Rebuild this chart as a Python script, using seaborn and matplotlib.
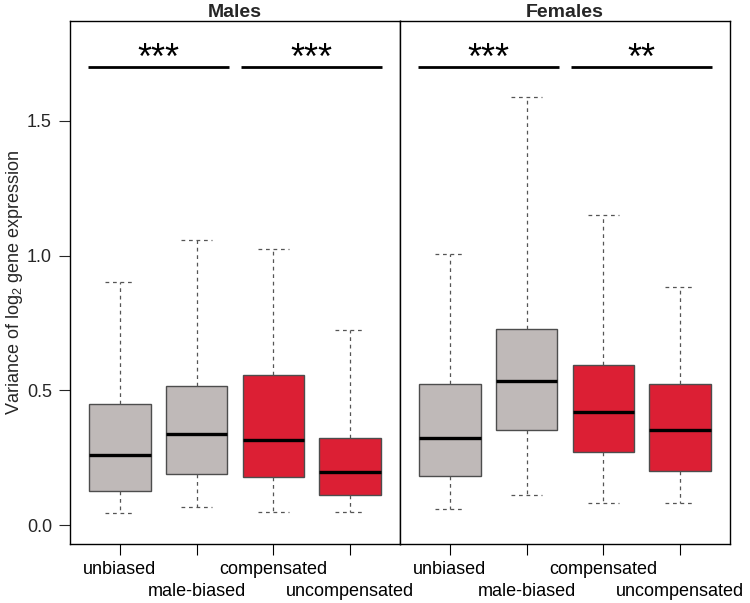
import numpy as np
import pandas as pd
import matplotlib
matplotlib.use('Agg')
import matplotlib.pyplot as plt
import seaborn as sns

categories = ['unbiased', 'male-biased', 'compensated', 'uncompensated']
box_colors = ['#BFB9B8', '#BFB9B8', '#DC1F34', '#DC1F34']

# five-number summaries (low whisker, Q1, median, Q3, high whisker)
males_low = [0.046, 0.067, 0.048, 0.049]
males_q1 = [0.127, 0.188, 0.179, 0.112]
males_med = [0.259, 0.337, 0.317, 0.196]
males_q3 = [0.450, 0.515, 0.558, 0.324]
males_high = [0.901, 1.059, 1.023, 0.725]

females_low = [0.061, 0.113, 0.083, 0.082]
females_q1 = [0.181, 0.351, 0.270, 0.200]
females_med = [0.323, 0.536, 0.419, 0.351]
females_q3 = [0.522, 0.729, 0.594, 0.525]
females_high = [1.005, 1.590, 1.152, 0.882]

# significance: pairs of compared groups and their stars
signif_pairs = [(0, 1), (2, 3)]
signif_males = ['***', '***']
signif_females = ['***', '**']
signif_y = 1.70

rows = []
for panel, stats in [('Males', [males_low, males_q1, males_med, males_q3, males_high]),
                     ('Females', [females_low, females_q1, females_med, females_q3, females_high])]:
    for i, cat in enumerate(categories):
        for s in stats:
            rows.append({'panel': panel, 'category': cat, 'value': s[i]})
df = pd.DataFrame(rows)

sns.set_style('ticks')
plt.rcParams['font.family'] = ['Liberation Sans', 'DejaVu Sans']
plt.rcParams['mathtext.fontset'] = 'custom'
plt.rcParams['mathtext.rm'] = 'Liberation Sans'
plt.rcParams['mathtext.it'] = 'Liberation Sans:italic'

fig = plt.figure(figsize=(7.5, 6.03), dpi=100)
W, H = 750, 603
bottom = 1 - 544 / H
height = (544 - 21) / H
ax_m = fig.add_axes([70 / W, bottom, 330 / W, height])
ax_f = fig.add_axes([400 / W, bottom, 330 / W, height], sharey=ax_m)

dash = (0, (3, 3))
for ax, panel, stars in [(ax_m, 'Males', signif_males), (ax_f, 'Females', signif_females)]:
    sns.boxplot(data=df[df['panel'] == panel], x='category', y='value',
                hue='category', order=categories, hue_order=categories,
                palette=box_colors, saturation=1, legend=False, whis=(0, 100),
                width=0.8, linecolor='#4d4d4d', linewidth=1.0, ax=ax,
                medianprops=dict(color='black', linewidth=2.4),
                whiskerprops=dict(color='#555555', linestyle=dash, linewidth=0.9),
                capprops=dict(color='#555555', linestyle=dash, linewidth=0.9))
    for (a, b), s in zip(signif_pairs, stars):
        ax.plot([a - 0.42, b + 0.42], [signif_y, signif_y], color='black', lw=2,
                solid_capstyle='butt')
        ax.text((a + b) / 2, signif_y - 0.008, s, ha='center', va='baseline',
                fontsize=26, color='black')
    ax.set_xlim(-0.652, 3.652)
    ax.set_ylim(-0.0705, 1.871)
    # staggered labels: first row on major ticks, second row on minor ticks
    ax.set_xticks(range(0, len(categories), 2))
    ax.set_xticklabels(categories[0::2], fontsize=13)
    ax.set_xticks(range(1, len(categories), 2), minor=True)
    ax.set_xticklabels(categories[1::2], minor=True, fontsize=13)
    ax.tick_params(axis='x', which='major', length=8, width=0.8, pad=4, colors='black')
    ax.tick_params(axis='x', which='minor', length=8, width=0.8, pad=20, colors='black')
    ax.set_xlabel('')
    ax.set_ylabel('')
    ax.set_title(panel, fontsize=14, fontweight='bold', pad=3)
    for sp in ax.spines.values():
        sp.set_visible(True)
        sp.set_color('black')
        sp.set_linewidth(1.0)

ax_m.set_yticks([0.0, 0.5, 1.0, 1.5])
ax_m.set_yticklabels(['0.0', '0.5', '1.0', '1.5'], fontsize=13)
ax_m.tick_params(axis='y', length=8, width=0.8, pad=5)
ax_m.set_ylabel('Variance of log$_2$ gene expression', fontsize=13)
ax_m.yaxis.set_label_coords(-0.137, 0.5)
ax_f.tick_params(axis='y', left=False, labelleft=False)

fig.savefig('out.png', dpi=100, facecolor='white')
